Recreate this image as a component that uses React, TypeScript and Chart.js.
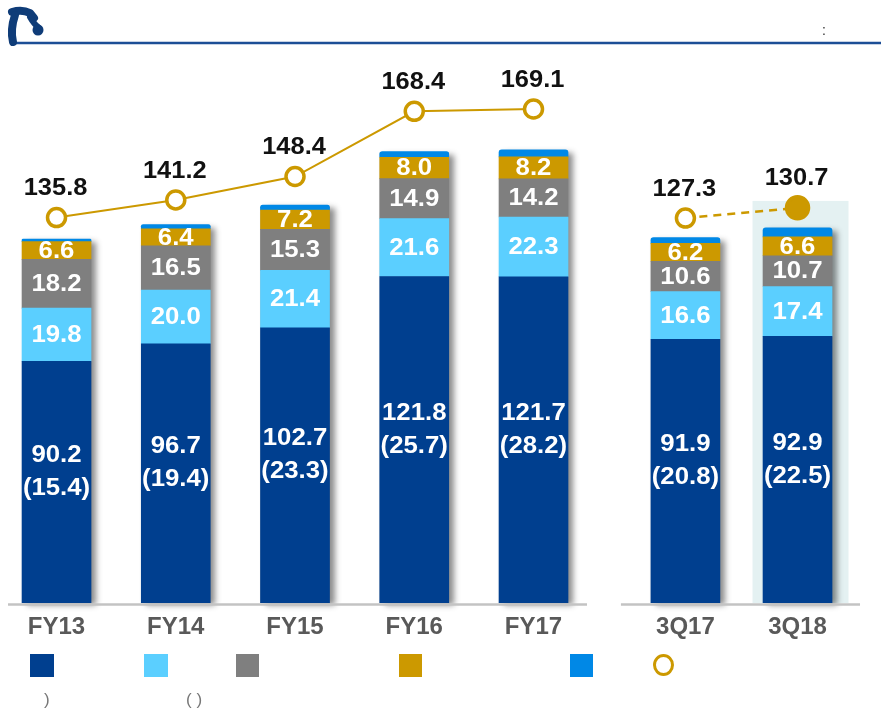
import React, { useEffect, useRef } from 'react';
import { Chart, registerables } from 'chart.js';

Chart.register(...registerables);

// ---------- data ----------
const fyLabels = ['FY13', 'FY14', 'FY15', 'FY16', 'FY17'];
const qLabels = ['3Q17', '3Q18'];

const fyCore = [90.2, 96.7, 102.7, 121.8, 121.7];
const fyCoreSub = [15.4, 19.4, 23.3, 25.7, 28.2];
const fyLight = [19.8, 20.0, 21.4, 21.6, 22.3];
const fyGray = [18.2, 16.5, 15.3, 14.9, 14.2];
const fyGold = [6.6, 6.4, 7.2, 8.0, 8.2];
const fyOther = [1.0, 1.6, 1.8, 2.1, 2.7];
const fyTotal = [135.8, 141.2, 148.4, 168.4, 169.1];

const qCore = [91.9, 92.9];
const qCoreSub = [20.8, 22.5];
const qLight = [16.6, 17.4];
const qGray = [10.6, 10.7];
const qGold = [6.2, 6.6];
const qOther = [2.0, 3.1];
const qTotal = [127.3, 130.7];

// ---------- layout / style ----------
const W = 881;
const H = 714;
const GROUP_GAP = 0.274;
const Q_STEP = 0.94;
const FONT = '"Liberation Sans", Arial, Helvetica, sans-serif';

const COLORS = {
  core: '#003F8F',
  light: '#5BCFFF',
  gray: '#7F7F7F',
  gold: '#CC9900',
  other: '#0088E6',
};

const fyX = fyLabels.map((_, i) => i);
const qX = qLabels.map((_, j) => fyLabels.length + GROUP_GAP + j * Q_STEP);
const allX = [...fyX, ...qX];
const allLabels = [...fyLabels, ...qLabels];

const segments = [
  { key: 'core', fy: fyCore, q: qCore, color: COLORS.core },
  { key: 'light', fy: fyLight, q: qLight, color: COLORS.light },
  { key: 'gray', fy: fyGray, q: qGray, color: COLORS.gray },
  { key: 'gold', fy: fyGold, q: qGold, color: COLORS.gold },
  { key: 'other', fy: fyOther, q: qOther, color: COLORS.other },
];

const fmt = (v: number) => v.toFixed(1);

function stretchText(ctx: CanvasRenderingContext2D, text: string, x: number, y: number, sx: number) {
  ctx.save();
  ctx.translate(x, y);
  ctx.scale(sx, 1);
  ctx.fillText(text, 0, 0);
  ctx.restore();
}

function buildDatasets() {
  const ds: any[] = [];
  segments.forEach((s) => {
    const common = {
      type: 'bar',
      backgroundColor: s.color,
      grouped: false,
      barThickness: 69,
      borderWidth: 0,
      borderRadius: s.key === 'other' ? 3 : 0,
      borderSkipped: 'start',
      order: 2,
      segKey: s.key,
    };
    ds.push({
      ...common,
      label: s.key + '-fy',
      data: fyX.map((x, i) => ({ x, y: s.fy[i] })),
      yAxisID: 'y',
      stack: 'fy',
      group: 'fy',
      subs: fyCoreSub,
    });
    ds.push({
      ...common,
      label: s.key + '-q',
      data: qX.map((x, i) => ({ x, y: s.q[i] })),
      yAxisID: 'yq',
      stack: 'q',
      group: 'q',
      subs: qCoreSub,
    });
  });
  ds.push({
    type: 'line',
    label: 'total-fy',
    data: fyX.map((x, i) => ({ x, y: fyTotal[i] })),
    yAxisID: 'yl',
    borderColor: COLORS.gold,
    borderWidth: 2,
    pointRadius: 9,
    pointBorderWidth: 3.5,
    pointBackgroundColor: '#ffffff',
    pointBorderColor: COLORS.gold,
    tension: 0,
    order: 0,
    isTotal: true,
  });
  ds.push({
    type: 'line',
    label: 'total-q',
    data: qX.map((x, i) => ({ x, y: qTotal[i] })),
    yAxisID: 'ylq',
    borderColor: COLORS.gold,
    borderWidth: 2.5,
    borderDash: [8, 6],
    pointRadius: [9, 11],
    pointBorderWidth: 3.5,
    pointBackgroundColor: ['#ffffff', COLORS.gold],
    pointBorderColor: COLORS.gold,
    tension: 0,
    order: 0,
    isTotal: true,
  });
  return ds;
}

const decorPlugin = {
  id: 'decor',
  beforeDatasetsDraw(chart: any) {
    const ctx = chart.ctx;
    const ds = chart.data.datasets;
    const find = (key: string, group: string) =>
      ds.findIndex((d: any) => d.segKey === key && d.group === group);
    // highlight box behind last quarter bar
    const qOtherMeta = chart.getDatasetMeta(find('other', 'q'));
    const lastQ = qOtherMeta.data[qOtherMeta.data.length - 1];
    if (lastQ) {
      ctx.save();
      ctx.fillStyle = '#E4F1F2';
      ctx.fillRect(lastQ.x - 45, lastQ.y - 27, 96, chart.chartArea.bottom - lastQ.y + 27);
      ctx.restore();
    }
    // bar shadows
    ['fy', 'q'].forEach((g) => {
      const topMeta = chart.getDatasetMeta(find('other', g));
      const baseMeta = chart.getDatasetMeta(find('core', g));
      topMeta.data.forEach((el: any, i: number) => {
        const base = baseMeta.data[i].base;
        ctx.save();
        ctx.shadowColor = 'rgba(0,0,0,0.45)';
        ctx.shadowBlur = 6;
        ctx.shadowOffsetX = 5;
        ctx.shadowOffsetY = 2;
        ctx.fillStyle = '#888';
        ctx.fillRect(el.x - 34.5, el.y + 1, 69, base - el.y - 1);
        ctx.restore();
      });
    });
  },
  afterDatasetsDraw(chart: any) {
    const ctx = chart.ctx;
    const ds = chart.data.datasets;
    const bottom = chart.chartArea.bottom;
    // axis baseline segments
    const getMeta = (key: string, group: string) =>
      chart.getDatasetMeta(ds.findIndex((d: any) => d.segKey === key && d.group === group));
    const fyM = getMeta('core', 'fy').data;
    const qM = getMeta('core', 'q').data;
    ctx.save();
    ctx.strokeStyle = '#C3C3C3';
    ctx.lineWidth = 2.5;
    ctx.beginPath();
    ctx.moveTo(fyM[0].x - 48.5, bottom + 1.5);
    ctx.lineTo(fyM[fyM.length - 1].x + 53.5, bottom + 1.5);
    ctx.moveTo(qM[0].x - 64.5, bottom + 1.5);
    ctx.lineTo(qM[qM.length - 1].x + 62.5, bottom + 1.5);
    ctx.stroke();
    ctx.restore();

    // segment labels
    ctx.save();
    ctx.textAlign = 'center';
    ctx.textBaseline = 'middle';
    ds.forEach((d: any, di: number) => {
      if (d.type !== 'bar' || d.segKey === 'other') return;
      const meta = chart.getDatasetMeta(di);
      meta.data.forEach((el: any, i: number) => {
        const v = d.data[i].y;
        const cy = (el.y + el.base) / 2;
        ctx.fillStyle = '#ffffff';
        ctx.font = `bold 23px ${FONT}`;
        if (d.segKey === 'core') {
          const c = cy - 10;
          stretchText(ctx, fmt(v), el.x, c - 16.5, 1.12);
          stretchText(ctx, '(' + fmt(d.subs[i]) + ')', el.x, c + 16.5, 1.12);
        } else {
          stretchText(ctx, fmt(v), el.x, cy + 1, 1.12);
        }
      });
    });
    ctx.restore();
  },
  afterDraw(chart: any) {
    const ctx = chart.ctx;
    const ds = chart.data.datasets;
    // total labels
    ctx.save();
    ctx.textAlign = 'center';
    ctx.textBaseline = 'middle';
    ctx.fillStyle = '#111111';
    ctx.font = `bold 24px ${FONT}`;
    ds.forEach((d: any, di: number) => {
      if (!d.isTotal) return;
      const meta = chart.getDatasetMeta(di);
      meta.data.forEach((el: any, i: number) => {
        stretchText(ctx, fmt(d.data[i].y), el.x - 1, el.y - 29, 1.06);
      });
    });
    ctx.restore();

    // header line and logo
    ctx.save();
    ctx.strokeStyle = '#1C4E96';
    ctx.lineWidth = 2.5;
    ctx.beginPath();
    ctx.moveTo(12, 43);
    ctx.lineTo(W, 43);
    ctx.stroke();
    ctx.strokeStyle = '#0F3C78';
    ctx.fillStyle = '#0F3C78';
    ctx.lineCap = 'round';
    ctx.lineJoin = 'round';
    ctx.lineWidth = 8;
    ctx.beginPath();
    ctx.moveTo(12, 12);
    ctx.quadraticCurveTo(22, 9, 30, 13);
    ctx.lineTo(34, 18);
    ctx.stroke();
    ctx.beginPath();
    ctx.moveTo(15, 15);
    ctx.quadraticCurveTo(10, 30, 13, 42);
    ctx.stroke();
    ctx.lineWidth = 6;
    ctx.beginPath();
    ctx.moveTo(30, 17);
    ctx.quadraticCurveTo(34, 24, 38, 27);
    ctx.stroke();
    ctx.beginPath();
    ctx.arc(38, 30, 5.5, 0, Math.PI * 2);
    ctx.fill();
    ctx.fillStyle = '#333333';
    ctx.font = `14px ${FONT}`;
    ctx.textAlign = 'center';
    ctx.fillText(':', 824, 35);
    ctx.restore();
  },
};

const legendItems = [
  { left: 30, width: 24, color: COLORS.core },
  { left: 144, width: 24, color: COLORS.light },
  { left: 236, width: 23, color: COLORS.gray },
  { left: 399, width: 23, color: COLORS.gold },
  { left: 570, width: 23, color: COLORS.other },
];

export default function App() {
  const ref = useRef<HTMLCanvasElement | null>(null);

  useEffect(() => {
    if (!ref.current) return;
    const chart = new Chart(ref.current, {
      type: 'bar',
      data: { datasets: buildDatasets() as any },
      options: {
        responsive: false,
        animation: false,
        events: [],
        layout: { autoPadding: false, padding: { top: 50, bottom: 71, left: 0, right: 0 } },
        plugins: { legend: { display: false }, tooltip: { enabled: false } },
        scales: {
          x: {
            type: 'linear',
            min: -0.474,
            max: 6.914,
            offset: false,
            grid: { display: false, drawTicks: false },
            border: { display: false },
            ticks: {
              font: { family: FONT, size: 24, weight: 'bold' },
              color: '#595959',
              padding: 10,
              maxRotation: 0,
              autoSkip: false,
              callback: (v: any) => {
                const i = allX.findIndex((p) => Math.abs(p - Number(v)) < 1e-6);
                return i >= 0 ? allLabels[i] : '';
              },
            },
            afterBuildTicks: (s: any) => {
              s.ticks = allX.map((v) => ({ value: v }));
            },
            afterFit: (s: any) => {
              s.height = 40;
              s.paddingLeft = 0;
              s.paddingRight = 0;
            },
          },
          y: { display: false, stacked: true, min: 0, max: 206.3 },
          yq: { display: false, stacked: true, min: 0, max: 192.7 },
          yl: { display: false, min: 17.6, max: 187.2 },
          ylq: { display: false, min: -1, max: 183.3 },
        } as any,
      },
      plugins: [decorPlugin],
    } as any);
    return () => chart.destroy();
  }, []);

  return (
    <div style={{ position: 'absolute', left: 0, top: 0, width: W, height: H, background: '#fff' }}>
      <canvas ref={ref} width={W} height={H} style={{ position: 'absolute', left: 0, top: 0 }} />
      {legendItems.map((it, i) => (
        <div
          key={i}
          style={{
            position: 'absolute',
            left: it.left,
            top: 654,
            width: it.width,
            height: 23,
            background: it.color,
          }}
        />
      ))}
      <div
        style={{
          position: 'absolute',
          left: 653,
          top: 654,
          width: 15,
          height: 16,
          border: `3.5px solid ${COLORS.gold}`,
          borderRadius: '50%',
          background: '#fff',
        }}
      />
      <span style={{ position: 'absolute', left: 44, top: 690, fontFamily: FONT, fontSize: 17, color: '#777' }}>)</span>
      <span style={{ position: 'absolute', left: 186, top: 690, fontFamily: FONT, fontSize: 17, color: '#777' }}>( )</span>
    </div>
  );
}
